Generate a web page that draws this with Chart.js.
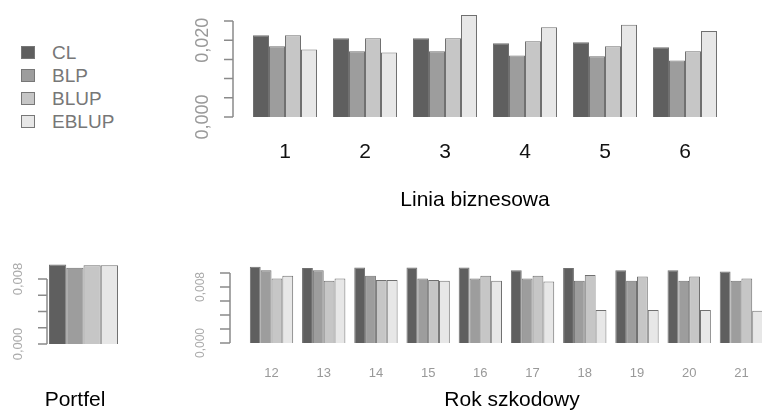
<!DOCTYPE html>
<html>
<head>
<meta charset="utf-8">
<script src="https://cdn.jsdelivr.net/npm/chart.js@4.4.1/dist/chart.umd.min.js"></script>
<style>
html, body { margin: 0; padding: 0; background: #fff; overflow: hidden; width: 762px; height: 413px; }
canvas { position: absolute; left: 0; top: 0; }
#legend { position: absolute; left: 21px; top: 41px; font-family: "Liberation Sans", Arial, sans-serif; font-size: 19px; color: #777; }
.item { height: 23px; display: flex; align-items: center; }
.box { width: 12px; height: 11px; border: 1px solid #777; margin-right: 17px; }
</style>
</head>
<body>
<div id="legend"></div>
<canvas id="top" width="762" height="413"></canvas>
<canvas id="port" width="762" height="413"></canvas>
<canvas id="rok" width="800" height="413"></canvas>
<script>
// series names and fills
var series = ["CL", "BLP", "BLUP", "EBLUP"];
var fills = ["#5f5f5f", "#9d9d9d", "#c6c6c6", "#e7e7e7"];
var edge = "#707070";

// Linia biznesowa
var lines = ["1", "2", "3", "4", "5", "6"];
var lineCL    = [0.0213, 0.0205, 0.0205, 0.0192, 0.0195, 0.0182];
var lineBLP   = [0.0184, 0.0171, 0.0171, 0.0160, 0.0158, 0.0147];
var lineBLUP  = [0.0213, 0.0205, 0.0205, 0.0197, 0.0184, 0.0171];
var lineEBLUP = [0.0176, 0.0168, 0.0266, 0.0234, 0.0240, 0.0224];
var lineTicks = [0, 0.005, 0.010, 0.015, 0.020, 0.025];
var lineTickLabels = ["0,000", "", "", "", "0,020", ""];

// Portfel
var portfel = [""];
var portCL = [0.0098], portBLP = [0.0094], portBLUP = [0.0097], portEBLUP = [0.0097];
var portTicks = [0, 0.002, 0.004, 0.006, 0.008];
var portTickLabels = ["0,000", "", "", "", "0,008"];

// Rok szkodowy
var years = ["12", "13", "14", "15", "16", "17", "18", "19", "20", "21"];
var yearCL    = [0.0109, 0.0107, 0.0108, 0.0108, 0.0108, 0.0104, 0.0107, 0.0104, 0.0104, 0.0102];
var yearBLP   = [0.0104, 0.0104, 0.0096, 0.0092, 0.0092, 0.0092, 0.0089, 0.0089, 0.0089, 0.0089];
var yearBLUP  = [0.0092, 0.0089, 0.0090, 0.0090, 0.0096, 0.0096, 0.0097, 0.0095, 0.0095, 0.0092];
var yearEBLUP = [0.0096, 0.0092, 0.0090, 0.0089, 0.0089, 0.0088, 0.0047, 0.0047, 0.0047, 0.0046];
var yearTicks = [0, 0.002, 0.004, 0.006, 0.008, 0.010];
var yearTickLabels = ["0,000", "", "", "", "0,008", ""];

var FONT = "'Liberation Sans', Arial, sans-serif";

// legend
var legend = document.getElementById("legend");
series.forEach(function(s, i) {
    var item = document.createElement("div");
    item.className = "item";
    var box = document.createElement("span");
    box.className = "box";
    box.style.background = fills[i];
    item.appendChild(box);
    item.appendChild(document.createTextNode(s));
    legend.appendChild(item);
});

// R style axis, labels and title
var rAxis = {
    id: "rAxis",
    afterDraw: function(chart, args, o) {
        var ctx = chart.ctx, ys = chart.scales.y, xs = chart.scales.x;
        ctx.save();
        ctx.strokeStyle = "#8a8a8a";
        ctx.lineWidth = 1.5;
        ctx.beginPath();
        ctx.moveTo(o.axisX, ys.getPixelForValue(o.ticks[0]));
        ctx.lineTo(o.axisX, ys.getPixelForValue(o.ticks[o.ticks.length - 1]));
        o.ticks.forEach(function(t) {
            var y = ys.getPixelForValue(t);
            ctx.moveTo(o.axisX - o.tickLen, y);
            ctx.lineTo(o.axisX, y);
        });
        ctx.stroke();

        ctx.textAlign = "center";
        ctx.textBaseline = "middle";
        ctx.fillStyle = o.yColor;
        ctx.font = o.yFont;
        o.ticks.forEach(function(t, i) {
            if (!o.tickLabels[i]) return;
            ctx.save();
            ctx.translate(o.labelX, ys.getPixelForValue(t));
            ctx.rotate(-Math.PI / 2);
            ctx.fillText(o.tickLabels[i], 0, 0);
            ctx.restore();
        });

        ctx.fillStyle = o.xColor;
        ctx.font = o.xFont;
        chart.data.labels.forEach(function(l, i) {
            ctx.fillText(l, xs.getPixelForValue(i), o.xLabelY);
        });

        ctx.fillStyle = "#000";
        ctx.font = "21px " + FONT;
        ctx.fillText(o.title, o.titleX, o.titleY);
        ctx.restore();
    }
};

function makeChart(id, labels, data, pad, ymax, cat, axis) {
    return new Chart(document.getElementById(id), {
        type: "bar",
        data: {
            labels: labels,
            datasets: series.map(function(s, i) {
                return {
                    label: s,
                    data: data[i],
                    backgroundColor: fills[i],
                    borderColor: edge,
                    borderWidth: 1,
                    categoryPercentage: cat,
                    barPercentage: 1
                };
            })
        },
        options: {
            responsive: false,
            animation: false,
            layout: { padding: pad },
            scales: {
                x: { display: false },
                y: { display: false, min: 0, max: ymax }
            },
            plugins: {
                legend: { display: false },
                tooltip: { enabled: false },
                rAxis: axis
            }
        },
        plugins: [rAxis]
    });
}

makeChart("top", lines, [lineCL, lineBLP, lineBLUP, lineEBLUP],
    { left: 245, right: 37, top: 9.5, bottom: 296 }, 0.028, 0.8,
    { axisX: 233, tickLen: 9, ticks: lineTicks, tickLabels: lineTickLabels, labelX: 203,
      yFont: "18px " + FONT, yColor: "#999", xLabelY: 152, xFont: "21px " + FONT, xColor: "#111",
      title: "Linia biznesowa", titleX: 475, titleY: 200 });

makeChart("port", portfel, [portCL, portBLP, portBLUP, portEBLUP],
    { left: 47, right: 642, top: 258.7, bottom: 69 }, 0.0105, 0.945,
    { axisX: 47, tickLen: 9, ticks: portTicks, tickLabels: portTickLabels, labelX: 18,
      yFont: "13px " + FONT, yColor: "#aaa", xLabelY: 373, xFont: "13px " + FONT, xColor: "#999",
      title: "Portfel", titleX: 75, titleY: 400 });

makeChart("rok", years, [yearCL, yearBLP, yearBLUP, yearEBLUP],
    { left: 245.4, right: 32.5, top: 262.5, bottom: 70 }, 0.0115, 0.83,
    { axisX: 230, tickLen: 10, ticks: yearTicks, tickLabels: yearTickLabels, labelX: 201,
      yFont: "12px " + FONT, yColor: "#aaa", xLabelY: 373, xFont: "13px " + FONT, xColor: "#999",
      title: "Rok szkodowy", titleX: 512, titleY: 400 });
</script>
</body>
</html>
